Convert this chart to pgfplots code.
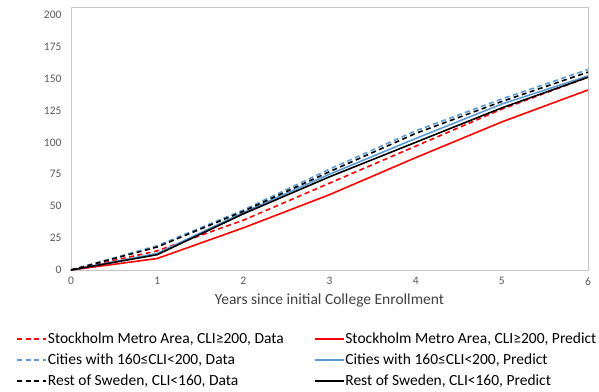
\documentclass[border=0pt]{standalone}
\usepackage{pgfplots}
\pgfplotsset{compat=1.18}
\usepackage{fontspec}
\setmainfont{Carlito}
\definecolor{xlblue}{HTML}{5B9BD5}
\definecolor{ticktext}{HTML}{595959}
\definecolor{legtext}{HTML}{404040}
\begin{document}
\begin{tikzpicture}
\path[use as bounding box] (-71pt,-121pt) rectangle (528pt,270pt);
\begin{axis}[
  at={(0,0)}, anchor=south west,
  scale only axis,
  width=517pt, height=263pt,
  xmin=0, xmax=6, ymin=0, ymax=206,
  xtick={0,1,2,3,4,5,6},
  ytick={0,25,50,75,100,125,150,175,200},
  major tick length=0pt,
  axis line style={draw=gray!45, line width=0.8pt},
  tick label style={font=\fontsize{11.5}{14}\selectfont, text=ticktext},
  /pgf/number format/assume math mode=true,
  xticklabel style={yshift=-4pt},
  yticklabel style={xshift=-6pt},
  xlabel={Years since initial College Enrollment},
  xlabel style={font=\fontsize{15.5}{18}\selectfont, yshift=-1pt, text=legtext},
  legend columns=2,
  legend cell align=left,
  legend style={draw=none, fill=none, at={(-0.112,-0.226)}, anchor=north west,
    font=\fontsize{15.5}{18}\selectfont,
    nodes={inner xsep=1pt, inner ysep=1pt},
    /tikz/every even column/.append style={column sep=29pt},
    row sep=7pt},
  legend image code/.code={\draw[#1] (0pt,0pt) -- (29pt,0pt);},
]
\addplot[color=red, line width=1.6pt, dash pattern=on 5pt off 3.5pt] coordinates {(0,0) (1,15) (2,39) (3,68) (4,97) (5,126) (6,151)};
\addlegendentry{Stockholm Metro Area, CLI≥200, Data}
\addplot[color=red, line width=1.6pt] coordinates {(0,0) (1,9) (2,33) (3,59) (4,88) (5,116) (6,141)};
\addlegendentry{Stockholm Metro Area, CLI≥200, Predict}
\addplot[color=xlblue, line width=1.6pt, dash pattern=on 5pt off 3.5pt] coordinates {(0,0) (1,19) (2,47) (3,79) (4,109) (5,134) (6,157)};
\addlegendentry{Cities with 160≤CLI<200, Data}
\addplot[color=xlblue, line width=1.6pt] coordinates {(0,0) (1,13) (2,45) (3,75) (4,103) (5,130) (6,152)};
\addlegendentry{Cities with 160≤CLI<200, Predict}
\addplot[color=black, line width=1.6pt, dash pattern=on 5pt off 3.5pt] coordinates {(0,0) (1,18) (2,46) (3,77) (4,107) (5,132) (6,155)};
\addlegendentry{Rest of Sweden, CLI<160, Data}
\addplot[color=black, line width=1.6pt] coordinates {(0,0) (1,12) (2,44) (3,73) (4,100) (5,127) (6,151)};
\addlegendentry{Rest of Sweden, CLI<160, Predict}
\end{axis}
\end{tikzpicture}
\end{document}
